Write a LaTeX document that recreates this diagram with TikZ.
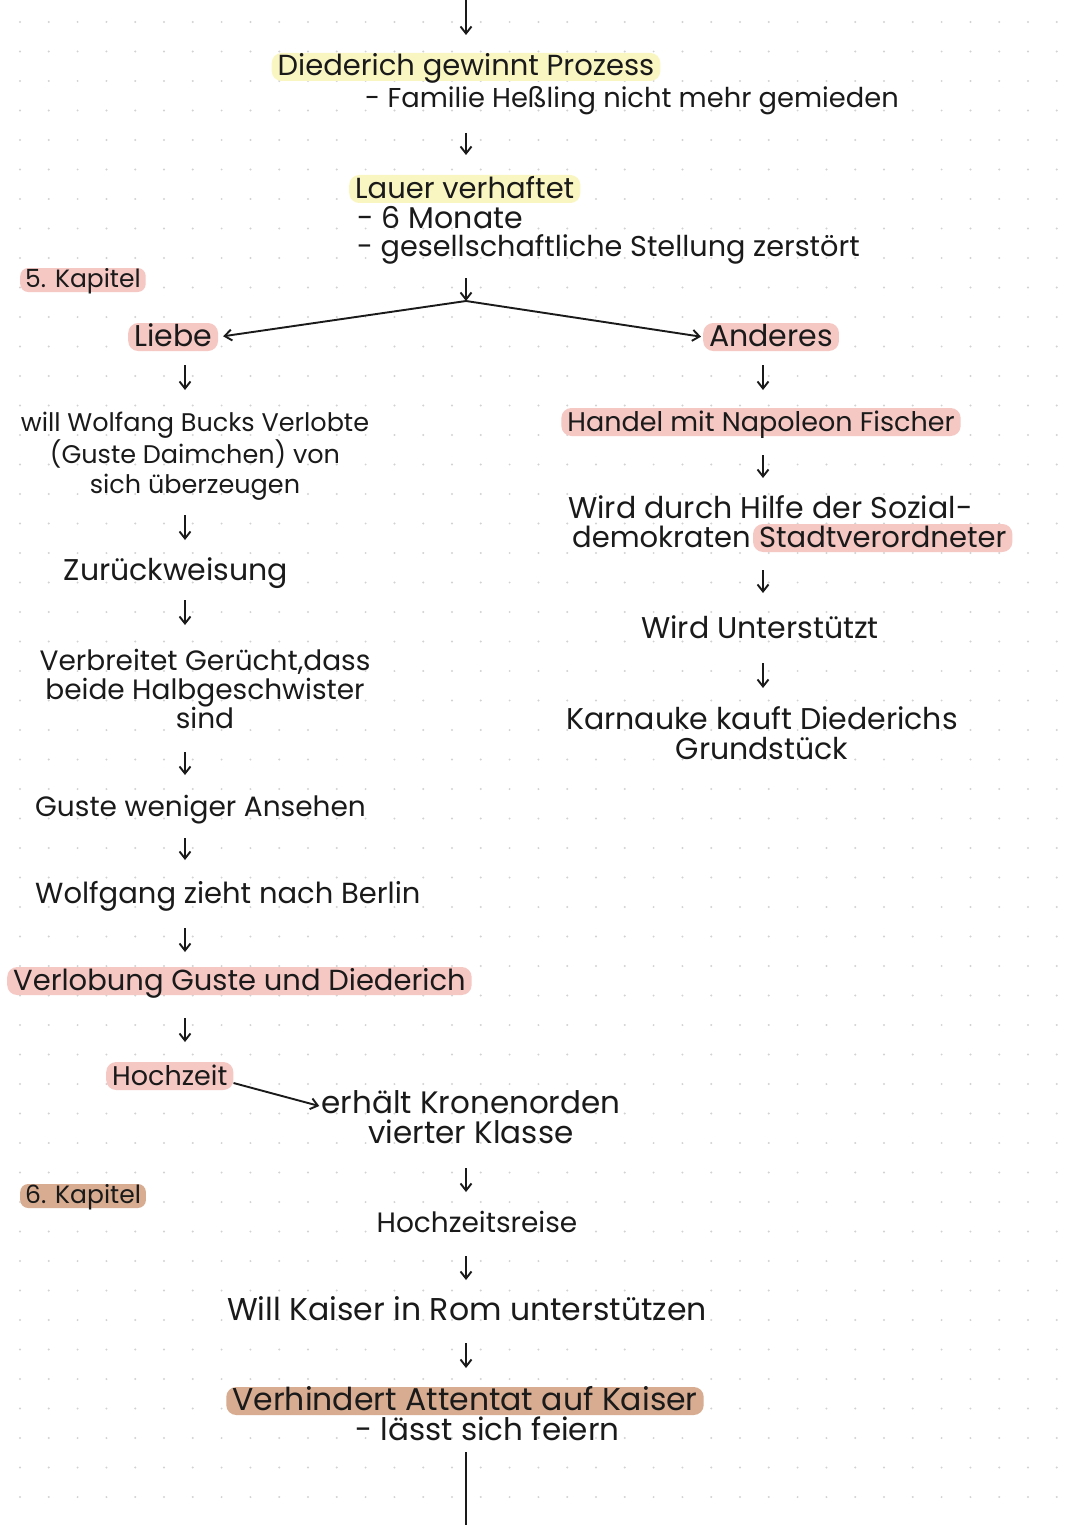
\documentclass[tikz,border=0pt]{standalone}
\usepackage{fontspec}
\setmainfont{Poppins}
\usetikzlibrary{arrows.meta,calc}
\definecolor{hlyellow}{HTML}{FAF6C2}
\definecolor{hlpink}{HTML}{F5C8C4}
\definecolor{hlbrown}{HTML}{D7AC90}
\definecolor{dotgray}{HTML}{D2D2D2}
\definecolor{ink}{HTML}{1A1A1A}
\newcommand\flowstep[5]{\draw[arr] ($(#1.base -| #5)+(0,#2)$) -- ($(#3.base -| #5)+(0,#4)$);}
\begin{document}
\begin{tikzpicture}[x=1pt,y=-1pt,
 txt/.style={inner sep=0pt, font=\fontsize{28}{30}\selectfont, text=ink, align=center},
 fs/.style={font=\fontsize{#1}{30}\selectfont},
 hl/.style={fill=#1, rounded corners=10pt, inner xsep=6pt, inner ysep=3pt, text height=20pt, text depth=2pt},
 hls/.style={fill=#1, rounded corners=8pt, inner xsep=5pt, inner ysep=3pt, text height=16pt, text depth=2pt},
 arr/.style={draw=ink, line width=1.9pt, -{Straight Barb[length=7pt,width=11pt]}},
 link/.style={draw=ink, line width=1.9pt}]
\fill[white] (0,0) rectangle (1080,1525);
\useasboundingbox (0,0) rectangle (1080,1525);
\foreach \i in {0,...,37}{\foreach \j in {0,...,51}{\fill[dotgray] ({20+\i*28.8},{22+\j*29.5}) circle[radius=1.1pt];}}
% column coordinates
\coordinate (cM) at (466,0);
\coordinate (cL) at (185,0);
\coordinate (cR) at (763,0);
\coordinate (top) at (466,0);
\coordinate (split) at (466,301);
\coordinate (bottom) at (466,1525);
% main column
\node[txt, fs=29, anchor=base, hl=hlyellow] (diederich) at (466,76) {Diederich gewinnt Prozess};
\node[txt, fs=27.3, anchor=base west] (familie) at (365,108) {- Familie Heßling nicht mehr gemieden};
\node[txt, fs=29, anchor=base west, hl=hlyellow] (lauer) at (349,198) {Lauer verhaftet};
\node[txt, fs=30, anchor=base west] (monate) at (357,228) {- 6 Monate};
\node[txt, fs=28.7, anchor=base west] (gesell) at (357,256) {- gesellschaftliche Stellung zerstört};
\node[txt, fs=25, anchor=base west, hls=hlpink] (kap5) at (20,287) {5. Kapitel};
% left branch
\node[txt, fs=30, anchor=base west, hl=hlpink] (liebe) at (128,346) {Liebe};
\node[txt, fs=25.5, anchor=base] (will) at (195,493) {will Wolfang Bucks Verlobte\\(Guste Daimchen) von\\sich überzeugen};
\node[txt, fs=30, anchor=base] (zurueck) at (176,580) {Zurückweisung};
\node[txt, font=\fontsize{28}{29}\selectfont, anchor=base] (verbreitet) at (205,728) {Verbreitet Gerücht,dass\\beide Halbgeschwister\\sind};
\node[txt, fs=28, anchor=base west] (guste) at (35,816) {Guste weniger Ansehen};
\node[txt, fs=29, anchor=base west] (wolfgang) at (35,903) {Wolfgang zieht nach Berlin};
\node[txt, fs=29, anchor=base west, hl=hlpink] (verlobung) at (7,990) {Verlobung Guste und Diederich};
\node[txt, fs=27, anchor=base west, hl=hlpink] (hochzeit) at (106,1085) {Hochzeit};
\node[txt, fs=31, anchor=base] (orden) at (471,1143) {erhält Kronenorden\\vierter Klasse};
\node[txt, fs=25, anchor=base west, hls=hlbrown] (kap6) at (20,1203) {6. Kapitel};
\node[txt, fs=28, anchor=base] (reise) at (477,1232) {Hochzeitsreise};
\node[txt, fs=31.5, anchor=base] (kaiser) at (467,1320) {Will Kaiser in Rom unterstützen};
\node[txt, fs=31.5, anchor=base, hl=hlbrown] (attentat) at (465,1410) {Verhindert Attentat auf Kaiser};
\node[txt, fs=31, anchor=base west] (feiern) at (355,1440) {- lässt sich feiern};
% right branch
\node[txt, fs=30, anchor=base west, hl=hlpink] (anderes) at (703,346) {Anderes};
\node[txt, fs=27, anchor=base, hl=hlpink] (handel) at (761,431) {Handel mit Napoleon Fischer};
\node[txt, fs=30, anchor=base west] (sozA) at (568,518) {Wird durch Hilfe der Sozial-};
\node[txt, fs=29, anchor=base west] (sozB) at (572,547) {demokraten};
\node[txt, fs=29, anchor=base west, hl=hlpink] (stadt) at ($(sozB.base east)+(2,0)$) {Stadtverordneter};
\node[txt, fs=30, anchor=base] (unterst) at (760,638) {Wird Unterstützt};
\node[txt, font=\fontsize{30}{30}\selectfont, anchor=base] (karnauke) at (762,759) {Karnauke kauft Diederichs\\Grundstück};
% connectors
\draw[arr] (top) -- ($(diederich.base -| cM)+(0,-41)$);
\flowstep{familie}{25}{lauer}{-43}{cM}
\draw[arr] ($(gesell.base -| cM)+(0,22)$) -- (split);
\draw[arr, shorten >=5pt] (split) -- (liebe.east);
\draw[arr, shorten >=2pt] (split) -- (anderes.west);
\flowstep{liebe}{19}{will}{-103}{cL}
\flowstep{will}{22}{zurueck}{-40}{cL}
\flowstep{zurueck}{20}{verbreitet}{-103}{cL}
\flowstep{verbreitet}{24}{guste}{-41}{cL}
\flowstep{guste}{22}{wolfgang}{-43}{cL}
\flowstep{wolfgang}{25}{verlobung}{-38}{cL}
\flowstep{verlobung}{28}{hochzeit}{-43}{cL}
\draw[arr] ($(hochzeit.base east)+(0,-2)$) -- ($(orden.base west)+(-2,-37)$);
\flowstep{orden}{25}{reise}{-40}{cM}
\flowstep{reise}{24}{kaiser}{-40}{cM}
\flowstep{kaiser}{23}{attentat}{-42}{cM}
\draw[link] ($(feiern.base -| cM)+(0,12)$) -- (bottom);
\flowstep{anderes}{19}{handel}{-41}{cR}
\flowstep{handel}{24}{sozA}{-40}{cR}
\flowstep{stadt}{23}{unterst}{-45}{cR}
\flowstep{unterst}{25}{karnauke}{-71}{cR}
\end{tikzpicture}
\end{document}
